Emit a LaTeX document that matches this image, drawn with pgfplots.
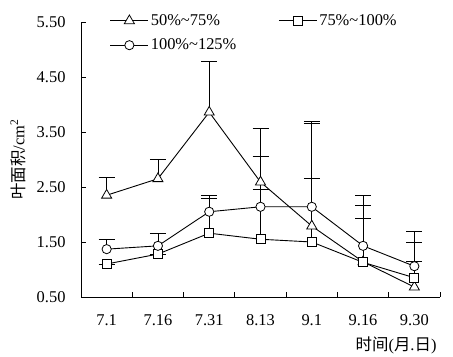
\documentclass[border=0pt]{standalone}
\usepackage{fontspec}
\setmainfont{Liberation Serif}
\newfontfamily\cjk{Noto Sans CJK SC}
\usepackage{pgfplots}
\pgfplotsset{compat=1.18}
\usetikzlibrary{calc}
\begin{document}
\begin{tikzpicture}
\begin{axis}[
  name=ax,
  scale only axis, width=359bp, height=275bp,
  font=\fontsize{16.5}{19}\selectfont,
  /pgf/number format/assume math mode=true,
  xmin=0.5, xmax=7.5, ymin=0.5, ymax=5.5,
  axis x line*=bottom, axis y line*=left,
  axis line style={line width=0.9bp},
  tick align=inside, major tick length=5bp,
  tick style={line width=0.8bp, black},
  xtick={0.5,1.5,...,7.5}, x tick label as interval,
  xticklabels={7.1,7.16,7.31,8.13,9.1,9.16,9.30},
  xticklabel style={yshift=-14bp},
  ytick={0.5,1.5,2.5,3.5,4.5,5.5},
  yticklabel style={/pgf/number format/fixed, /pgf/number format/precision=2, /pgf/number format/fixed zerofill, xshift=-12bp},
  ylabel={{\cjk 叶面积}/cm\textsuperscript{2}},
  ylabel style={at={(axis description cs:-0.175,0.5)}, anchor=center},
  xlabel={{\cjk 时间}({\cjk 月}.{\cjk 日})},
  xlabel style={at={(axis description cs:1,0)}, anchor=north east, yshift=-36bp},
  legend cell align=left,
  legend style={draw=none, fill=none, at={(0.08,1.035)}, anchor=north west, legend columns=2, inner sep=0pt, row sep=8bp,
    /tikz/every even column/.append style={column sep=40bp}},
  legend image code/.code={\draw[mark repeat=2,mark phase=2,#1] plot coordinates {(0bp,0bp) (19bp,0bp) (38bp,0bp)};},
  every axis plot/.append style={black, line width=0.9bp, mark options={solid, fill=white, line width=0.8bp}},
  error bars/y dir=plus, error bars/y explicit,
  error bars/error bar style={black, line width=0.8bp},
  error bars/error mark options={rotate=90, mark size=8bp, line width=0.8bp, black},
]
\addplot[mark=triangle*, mark size=5.8bp] coordinates {
 (1,2.35) +- (0,0.33)
 (2,2.65) +- (0,0.36)
 (3,3.86) +- (0,0.93)
 (4,2.59) +- (0,0.98)
 (5,1.79) +- (0,0.86)
 (6,1.14) +- (0,0.78)
 (7,0.68) +- (0,0.47)
};
\addlegendentry{50\%\textasciitilde75\%}
\addplot[mark=square*, mark size=4.5bp] coordinates {
 (1,1.10) +- (0,0)
 (2,1.28) +- (0,0)
 (3,1.66) +- (0,0.64)
 (4,1.55) +- (0,0.90)
 (5,1.50) +- (0,2.16)
 (6,1.13) +- (0,1.04)
 (7,0.85) +- (0,0.65)
};
\addlegendentry{75\%\textasciitilde100\%}
\addplot[mark=*, mark size=4.6bp] coordinates {
 (1,1.37) +- (0,0.18)
 (2,1.43) +- (0,0.22)
 (3,2.05) +- (0,0.29)
 (4,2.14) +- (0,0.91)
 (5,2.14) +- (0,1.56)
 (6,1.43) +- (0,0.92)
 (7,1.06) +- (0,0.64)
};
\addlegendentry{100\%\textasciitilde125\%}
\end{axis}
\pgfresetboundingbox
\path[use as bounding box] ($(ax.south west)+(-81bp,-60bp)$) rectangle ($(ax.north east)+(13bp,22bp)$);
\end{tikzpicture}
\end{document}
